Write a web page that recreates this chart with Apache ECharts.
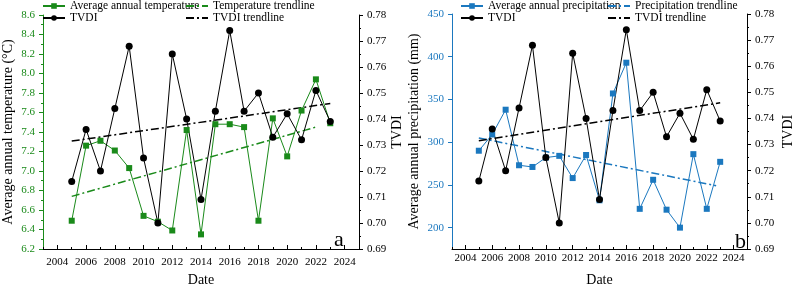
<!DOCTYPE html>
<html>
<head>
    <meta charset="utf-8">
    <title>Temperature / precipitation and TVDI</title>
    <script src="https://cdn.jsdelivr.net/npm/echarts@6/dist/echarts.min.js"></script>
    <style>
        html, body { margin: 0; padding: 0; background: #fff; }
        #main { width: 796px; height: 292px; }
    </style>
</head>
<body>
    <div id="main"></div>
    <script type="text/javascript">
        // data
        var years = [2005, 2006, 2007, 2008, 2009, 2010, 2011, 2012, 2013, 2014,
                     2015, 2016, 2017, 2018, 2019, 2020, 2021, 2022, 2023];
        var temperature = [6.49, 7.26, 7.31, 7.21, 7.03, 6.54, 6.48, 6.39, 7.42, 6.35,
                           7.48, 7.48, 7.45, 6.49, 7.54, 7.15, 7.62, 7.94, 7.49];
        var precipitation = [290, 309, 338, 273, 271, 282, 284, 258, 285, 232,
                             357, 393, 222, 256, 221, 200, 286, 222, 277];
        var tvdi = [0.716, 0.736, 0.720, 0.744, 0.768, 0.725, 0.700, 0.765, 0.740, 0.709,
                    0.743, 0.774, 0.743, 0.750, 0.733, 0.742, 0.732, 0.751, 0.739];
        // trendline endpoints
        var tempTrend = [[2005, 6.74], [2022, 7.45]];
        var precTrend = [[2005, 305], [2022.7, 249]];
        var tvdiTrend = [[2005, 0.7315], [2023, 0.746]];
        // tick labels
        var yearLabels = [2004, 2006, 2008, 2010, 2012, 2014, 2016, 2018, 2020, 2022, 2024];
        var yearMinor = [2003, 2005, 2007, 2009, 2011, 2013, 2015, 2017, 2019, 2021, 2023, 2025];
        var precLabels = [200, 250, 300, 350, 400, 450];

        var FONT = 'Liberation Serif';
        var GREEN = '#1a8a1a';
        var BLUE = '#1b78bf';
        var DASHDOT = [8, 3, 2, 3];

        function pairs(xs, ys) {
            return xs.map(function (x, i) { return [x, ys[i]]; });
        }

        var myChart = echarts.init(document.getElementById('main'));

        function xAxes(gridIndex, margin) {
            return [{
                gridIndex: gridIndex, type: 'value', min: 2003, max: 2025,
                name: 'Date', nameLocation: 'middle', nameGap: 24,
                nameTextStyle: { fontFamily: FONT, fontSize: 14, color: '#000' },
                axisLine: { lineStyle: { color: '#000', width: 1 } },
                axisTick: { inside: true, length: 4, customValues: yearLabels, lineStyle: { color: '#000' } },
                axisLabel: { customValues: yearLabels, margin: margin, fontFamily: FONT, fontSize: 11, color: '#000',
                    formatter: function (v) { return String(v); } },
                splitLine: { show: false }
            }, {
                gridIndex: gridIndex, type: 'value', min: 2003, max: 2025, position: 'bottom',
                axisLine: { show: false },
                axisTick: { inside: true, length: 2, customValues: yearMinor, lineStyle: { color: '#000' } },
                axisLabel: { show: false },
                splitLine: { show: false }
            }];
        }

        function tvdiAxis(gridIndex, gap) {
            return {
                gridIndex: gridIndex, type: 'value', position: 'right',
                min: 0.69, max: 0.78, interval: 0.01,
                name: 'TVDI', nameLocation: 'middle', nameGap: gap, nameRotate: 90,
                nameTextStyle: { fontFamily: FONT, fontSize: 14, color: '#000' },
                axisLine: { show: true, lineStyle: { color: '#000' } },
                axisTick: { show: true, length: 4 },
                minorTick: { show: true, splitNumber: 2, length: 2, lineStyle: { color: '#000' } },
                axisLabel: { fontFamily: FONT, fontSize: 11, color: '#000',
                    formatter: function (v) { return v.toFixed(2); } },
                splitLine: { show: false }
            };
        }

        // trendlines get a legend entry without the marker
        function legend(name, left, top, noMarker) {
            var item = noMarker ? { name: name, itemStyle: { opacity: 0 } } : name;
            return {
                data: [item], left: left, top: top, itemWidth: 22, itemHeight: 7, itemGap: 0,
                padding: 0,
                textStyle: { fontFamily: FONT, fontSize: 11.5, color: '#000' }
            };
        }

        var option = {
            animation: false,
            backgroundColor: '#fff',
            grid: [
                { left: 37, right: 437, top: 15, bottom: 38 },
                { left: 452, right: 36, top: 14, bottom: 34 }
            ],
            legend: [
                legend('Average annual temperature', 42, 0),
                legend('Temperature trendline', 185, 0, true),
                legend('TVDI', 42, 12),
                legend('TVDI trendline', 185, 12, true),
                legend('Average annual precipitation', 460, 0),
                legend('Precipitation trendline', 607, 0, true),
                legend('TVDI', 460, 12),
                legend('TVDI trendline', 607, 12, true)
            ],
            xAxis: xAxes(0, 8).concat(xAxes(1, 4)),
            yAxis: [{
                gridIndex: 0, type: 'value', position: 'left',
                min: 6.2, max: 8.6, interval: 0.2,
                name: 'Average annual temperature (°C)', nameLocation: 'middle', nameGap: 28,
                nameTextStyle: { fontFamily: FONT, fontSize: 14, color: '#000' },
                axisLine: { show: true, lineStyle: { color: GREEN } },
                axisTick: { show: true, length: 4 },
                minorTick: { show: true, splitNumber: 2, length: 2, lineStyle: { color: GREEN } },
                axisLabel: { fontFamily: FONT, fontSize: 11, color: GREEN,
                    formatter: function (v) { return v.toFixed(1); } },
                splitLine: { show: false }
            },
            tvdiAxis(0, 31),
            {
                gridIndex: 1, type: 'value', position: 'left',
                min: 175, max: 450,
                name: 'Average annual precipitation (mm)', nameLocation: 'middle', nameGap: 31,
                nameTextStyle: { fontFamily: FONT, fontSize: 14, color: '#000' },
                axisLine: { show: true, lineStyle: { color: BLUE } },
                axisTick: { show: true, length: 4, customValues: precLabels },
                axisLabel: { customValues: precLabels, fontFamily: FONT, fontSize: 11, color: BLUE },
                splitLine: { show: false }
            },
            tvdiAxis(1, 34)],
            series: [{
                name: 'Average annual temperature', type: 'line', xAxisIndex: 0, yAxisIndex: 0,
                data: pairs(years, temperature),
                symbol: 'rect', symbolSize: 6,
                itemStyle: { color: GREEN }, lineStyle: { color: GREEN, width: 1 }
            }, {
                name: 'Temperature trendline', type: 'line', xAxisIndex: 0, yAxisIndex: 0,
                data: tempTrend, showSymbol: false,
                itemStyle: { color: GREEN }, lineStyle: { color: GREEN, width: 1.5, type: DASHDOT }
            }, {
                name: 'TVDI', type: 'line', xAxisIndex: 0, yAxisIndex: 1,
                data: pairs(years, tvdi),
                symbol: 'circle', symbolSize: 7,
                itemStyle: { color: '#000' }, lineStyle: { color: '#000', width: 1 }
            }, {
                name: 'TVDI trendline', type: 'line', xAxisIndex: 0, yAxisIndex: 1,
                data: tvdiTrend, showSymbol: false,
                itemStyle: { color: '#000' }, lineStyle: { color: '#000', width: 1.5, type: DASHDOT }
            }, {
                name: 'Average annual precipitation', type: 'line', xAxisIndex: 2, yAxisIndex: 2,
                data: pairs(years, precipitation),
                symbol: 'rect', symbolSize: 6,
                itemStyle: { color: BLUE }, lineStyle: { color: BLUE, width: 1 }
            }, {
                name: 'Precipitation trendline', type: 'line', xAxisIndex: 2, yAxisIndex: 2,
                data: precTrend, showSymbol: false,
                itemStyle: { color: BLUE }, lineStyle: { color: BLUE, width: 1.5, type: DASHDOT }
            }, {
                name: 'TVDI', type: 'line', xAxisIndex: 2, yAxisIndex: 3,
                data: pairs(years, tvdi),
                symbol: 'circle', symbolSize: 7,
                itemStyle: { color: '#000' }, lineStyle: { color: '#000', width: 1 }
            }, {
                name: 'TVDI trendline', type: 'line', xAxisIndex: 2, yAxisIndex: 3,
                data: tvdiTrend, showSymbol: false,
                itemStyle: { color: '#000' }, lineStyle: { color: '#000', width: 1.5, type: DASHDOT }
            }],
            graphic: [
                { type: 'text', left: 334, top: 229, style: { text: 'a', font: '22px "Liberation Serif"', fill: '#000' } },
                { type: 'text', left: 735, top: 231, style: { text: 'b', font: '22px "Liberation Serif"', fill: '#000' } }
            ]
        };
        myChart.setOption(option);
    </script>
</body>
</html>
